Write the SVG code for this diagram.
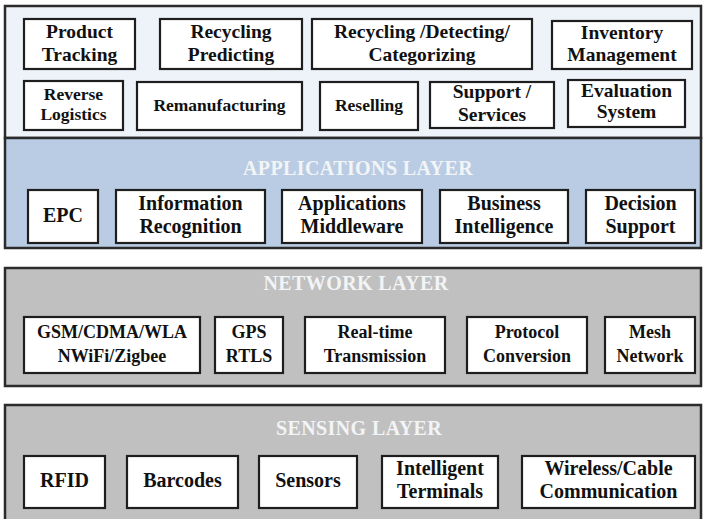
<svg xmlns="http://www.w3.org/2000/svg" width="703" height="519" viewBox="0 0 703 519">
<style>
.panel{stroke:#2b2b2b;stroke-width:2.5}
.box{fill:#ffffff;stroke:#1e1e1e;stroke-width:2.2}
.t{font-family:'Liberation Serif','Times New Roman',serif;font-weight:bold;font-size:19.5px;fill:#111;text-anchor:middle}
.s{font-size:17.5px}
.a{font-size:20px}
.n{font-size:18px}
.title{font-family:'Liberation Serif','Times New Roman',serif;font-weight:bold;font-size:20px;letter-spacing:0.4px;fill:#f2f4f6;text-anchor:middle}
</style>
<rect width="703" height="519" fill="#ffffff"/>
<g id="top-panel">
<rect class="panel" x="5" y="6" width="696" height="132" fill="#eef3fa"/>
</g>
<g id="applications-layer">
<rect class="panel" x="5" y="138" width="696" height="110" fill="#b9cce4"/>
<text class="title" x="358" y="175">APPLICATIONS LAYER</text>
</g>
<g id="network-layer">
<rect class="panel" x="5" y="268" width="696" height="118" fill="#c0c0c0"/>
<text class="title" x="356" y="290">NETWORK LAYER</text>
</g>
<g id="sensing-layer">
<rect class="panel" x="5" y="405" width="696" height="120" fill="#c0c0c0"/>
<text class="title" x="359" y="435">SENSING LAYER</text>
</g>

<g id="product-tracking"><rect class="box" x="24" y="19" width="111" height="50"/><text class="t" x="79.5" y="38">Product</text><text class="t" x="79.5" y="61">Tracking</text></g>
<g id="recycling-predicting"><rect class="box" x="160" y="19" width="142" height="50"/><text class="t" x="231" y="38">Recycling</text><text class="t" x="231" y="61">Predicting</text></g>
<g id="recycling-detecting"><rect class="box" x="312" y="19" width="220" height="50"/><text class="t" x="422" y="38">Recycling /Detecting/</text><text class="t" x="422" y="61">Categorizing</text></g>
<g id="inventory-management"><rect class="box" x="552" y="21" width="140" height="48"/><text class="t" x="622" y="39">Inventory</text><text class="t" x="622" y="61">Management</text></g>

<g id="reverse-logistics"><rect class="box" x="24" y="81" width="99" height="49"/><text class="t s" x="73.5" y="100">Reverse</text><text class="t s" x="73.5" y="120">Logistics</text></g>
<g id="remanufacturing"><rect class="box" x="137" y="82" width="165" height="48"/><text class="t s" x="219.5" y="111">Remanufacturing</text></g>
<g id="reselling"><rect class="box" x="320" y="82" width="98" height="48"/><text class="t s" x="369" y="111">Reselling</text></g>
<g id="support-services"><rect class="box" x="430" y="82" width="124" height="46"/><text class="t" x="492" y="98">Support /</text><text class="t" x="492" y="121">Services</text></g>
<g id="evaluation-system"><rect class="box" x="568" y="80" width="117" height="47"/><text class="t" x="626.5" y="97">Evaluation</text><text class="t" x="626.5" y="118">System</text></g>

<g id="epc"><rect class="box" x="28" y="190" width="70" height="53"/><text class="t a" x="63" y="222">EPC</text></g>
<g id="information-recognition"><rect class="box" x="116" y="190" width="149" height="53"/><text class="t a" x="190.5" y="210">Information</text><text class="t a" x="190.5" y="233">Recognition</text></g>
<g id="applications-middleware"><rect class="box" x="282" y="190" width="140" height="53"/><text class="t a" x="352" y="210">Applications</text><text class="t a" x="352" y="233">Middleware</text></g>
<g id="business-intelligence"><rect class="box" x="440" y="190" width="128" height="53"/><text class="t a" x="504" y="210">Business</text><text class="t a" x="504" y="233">Intelligence</text></g>
<g id="decision-support"><rect class="box" x="586" y="190" width="109" height="53"/><text class="t a" x="640.5" y="210">Decision</text><text class="t a" x="640.5" y="233">Support</text></g>

<g id="gsm-cdma"><rect class="box" x="24" y="317" width="176" height="56"/><text class="t n" x="112" y="338">GSM/CDMA/WLA</text><text class="t n" x="112" y="362">NWiFi/Zigbee</text></g>
<g id="gps-rtls"><rect class="box" x="215" y="317" width="68" height="56"/><text class="t n" x="249" y="338">GPS</text><text class="t n" x="249" y="362">RTLS</text></g>
<g id="real-time-transmission"><rect class="box" x="305" y="317" width="140" height="56"/><text class="t n" x="375" y="338">Real-time</text><text class="t n" x="375" y="362">Transmission</text></g>
<g id="protocol-conversion"><rect class="box" x="467" y="317" width="120" height="56"/><text class="t n" x="527" y="338">Protocol</text><text class="t n" x="527" y="362">Conversion</text></g>
<g id="mesh-network"><rect class="box" x="605" y="317" width="90" height="56"/><text class="t n" x="650" y="338">Mesh</text><text class="t n" x="650" y="362">Network</text></g>

<g id="rfid"><rect class="box" x="24" y="456" width="81" height="52"/><text class="t a" x="64.5" y="487">RFID</text></g>
<g id="barcodes"><rect class="box" x="127" y="456" width="111" height="52"/><text class="t a" x="182.5" y="487">Barcodes</text></g>
<g id="sensors"><rect class="box" x="259" y="456" width="98" height="52"/><text class="t a" x="308" y="487">Sensors</text></g>
<g id="intelligent-terminals"><rect class="box" x="382" y="456" width="116" height="52"/><text class="t a" x="440" y="475">Intelligent</text><text class="t a" x="440" y="498">Terminals</text></g>
<g id="wireless-cable"><rect class="box" x="522" y="456" width="173" height="52"/><text class="t a" x="608.5" y="475">Wireless/Cable</text><text class="t a" x="608.5" y="498">Communication</text></g>
</svg>
